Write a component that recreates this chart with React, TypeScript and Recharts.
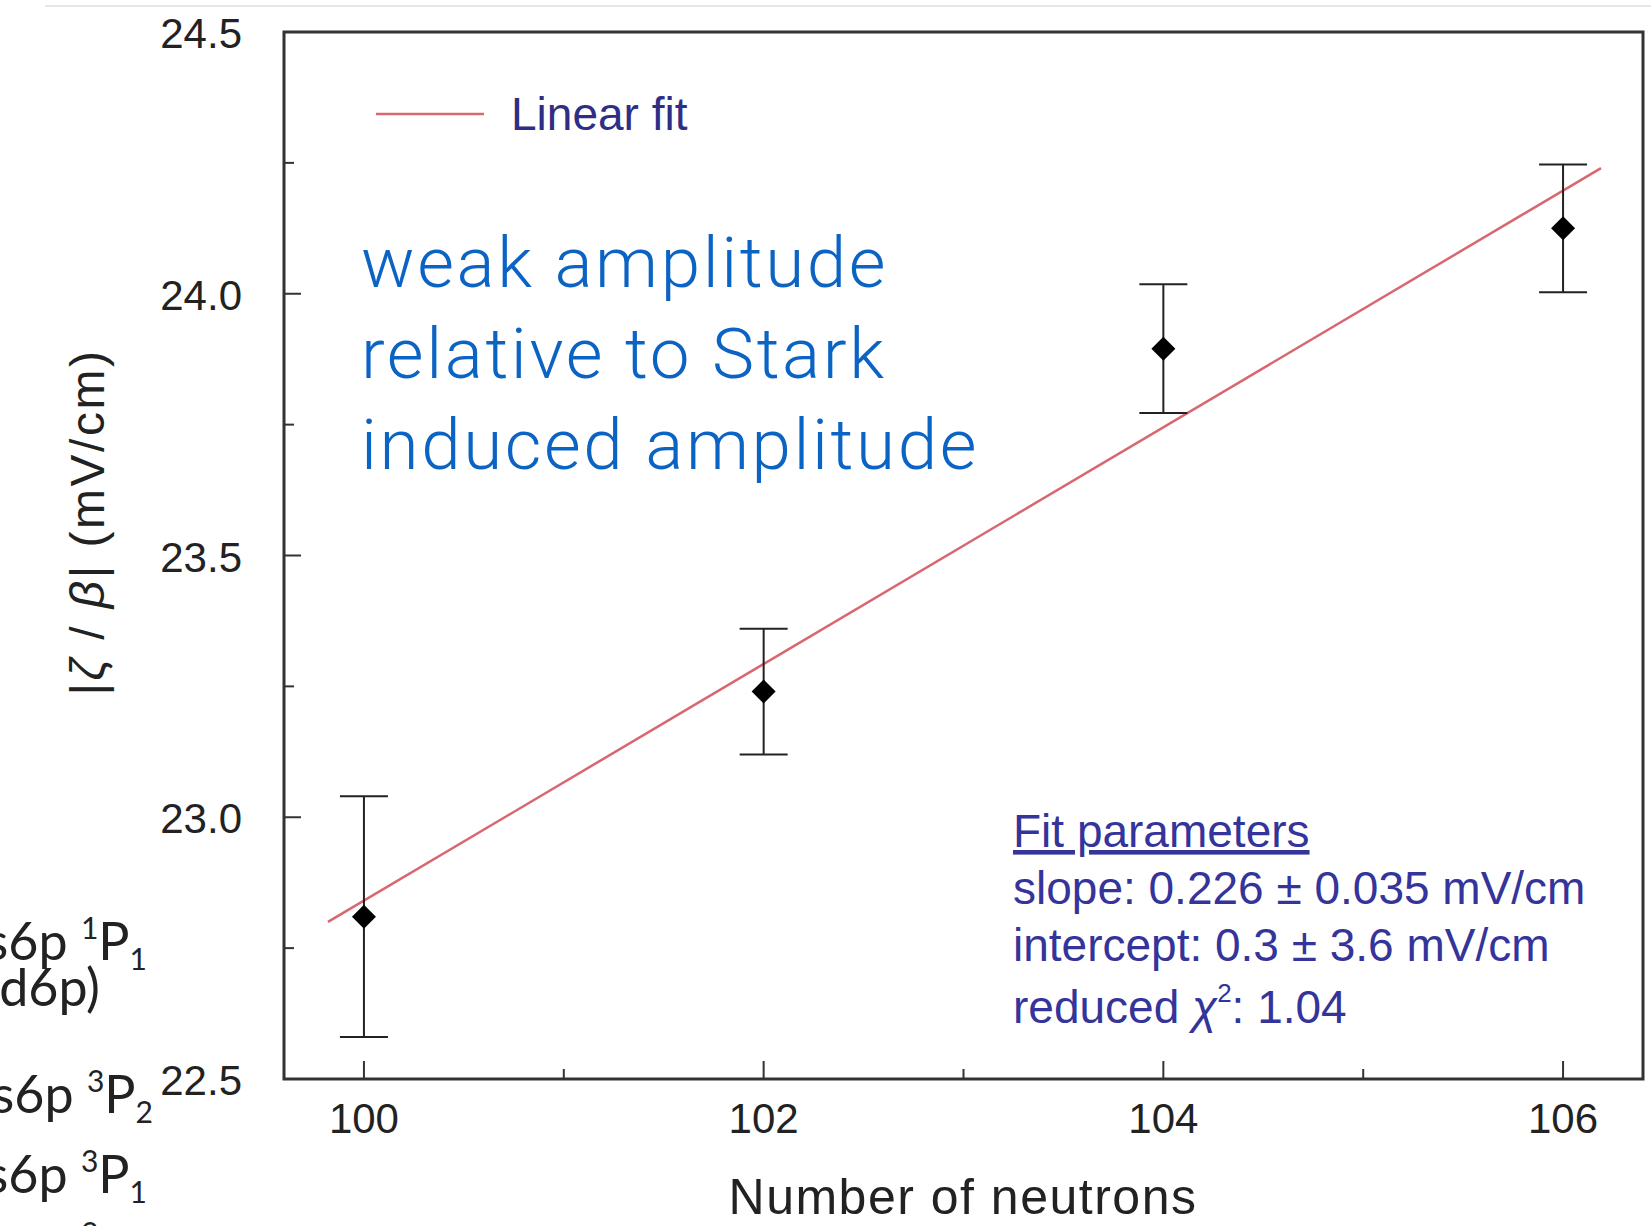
import React from "react";
import {
  ComposedChart,
  XAxis,
  YAxis,
  Scatter,
  Line,
  ErrorBar,
  ReferenceArea,
  Legend,
  Customized,
} from "recharts";

// ---- data ----
const neutrons = [100, 102, 104, 106];
const ratio = [22.81, 23.24, 23.895, 24.125];
const ratioErr = [0.23, 0.12, 0.123, 0.122];

const fitX = [99.82, 106.19];
const fitY = [22.8, 24.24];

const xTicks = [100, 101, 102, 103, 104, 105, 106];
const yTicks = [22.5, 22.75, 23.0, 23.25, 23.5, 23.75, 24.0, 24.25, 24.5];
const xDomain = [99.6, 106.4];
const yDomain = [22.5, 24.5];

const noteLines = ["weak amplitude", "relative to Stark", "induced amplitude"];
const fitParams = [
  "slope: 0.226 \u00b1 0.035 mV/cm",
  "intercept: 0.3 \u00b1 3.6 mV/cm",
];

const points = neutrons.map((n, i) => ({ x: n, y: ratio[i], err: ratioErr[i] }));
const fitData = fitX.map((x, i) => ({ x, fit: fitY[i] }));

const AXIS = "#333333";
const TXT = "#222222";
const FONT = "'Liberation Sans', Arial, Helvetica, sans-serif";
const NAVY = "#34349a";
const RED = "#d8676f";

const XTick = (props: any) => {
  const { x, y, payload } = props;
  const major = payload.value % 2 === 0;
  return (
    <g>
      <line x1={x} x2={x} y1={y} y2={y - (major ? 18 : 10)} stroke={AXIS} strokeWidth={2} />
      {major && (
        <text x={x} y={y + 54} textAnchor="middle" fontSize={42} fontFamily={FONT} fill={TXT}>
          {payload.value}
        </text>
      )}
    </g>
  );
};

const YTick = (props: any) => {
  const { x, y, payload } = props;
  const major = Math.abs((payload.value * 2) % 1) < 1e-6;
  return (
    <g>
      <line x1={x} x2={x + (major ? 17 : 10)} y1={y} y2={y} stroke={AXIS} strokeWidth={2} />
      {major && (
        <text x={x - 42} y={y + 16} textAnchor="end" fontSize={42} fontFamily={FONT} fill={TXT}>
          {payload.value.toFixed(1)}
        </text>
      )}
    </g>
  );
};

const Diamond = (props: any) => {
  const { cx, cy } = props;
  const r = 12;
  return <polygon points={`${cx},${cy - r} ${cx + r},${cy} ${cx},${cy + r} ${cx - r},${cy}`} fill="#000" />;
};

const LegendContent = () => (
  <svg width={380} height={60}>
    <line x1={6} x2={114} y1={30} y2={30} stroke={RED} strokeWidth={2.5} />
    <text x={141} y={46} fontSize={46} fontFamily={FONT} fill="#2e2e86">
      Linear fit
    </text>
  </svg>
);

const Annotations = () => (
  <g>
    <line x1={45} x2={1651} y1={6} y2={6} stroke="#e6e6e6" strokeWidth={2} />
    {/* y-axis title */}
    <text
      transform="translate(104,522) rotate(-90)"
      textAnchor="middle"
      fontSize={48}
      letterSpacing={2.5}
      fontFamily={FONT}
      fill={TXT}
    >
      |<tspan fontStyle="italic">{"\u03b6"}</tspan> / <tspan fontStyle="italic">{"\u03b2"}</tspan>| (mV/cm)
    </text>
    {/* x-axis title */}
    <text x={963} y={1214} textAnchor="middle" fontSize={50} letterSpacing={1.5} fontFamily={FONT} fill={TXT}>
      Number of neutrons
    </text>
    {/* blue note */}
    {noteLines.map((t, i) => (
      <text
        key={t}
        x={361}
        y={287 + i * 91}
        fontSize={71}
        fontWeight={300}
        letterSpacing={2.6}
        fontFamily="Roboto, 'Liberation Sans', sans-serif"
        fill="#0b63c4"
      >
        {t}
      </text>
    ))}
    {/* fit parameters */}
    <text x={1013} y={847} fontSize={46} fontFamily={FONT} fill={NAVY} textDecoration="underline">
      Fit parameters
    </text>
    {fitParams.map((t, i) => (
      <text key={t} x={1013} y={904 + i * 57} fontSize={46} fontFamily={FONT} fill={NAVY}>
        {t}
      </text>
    ))}
    <text x={1013} y={1023} fontSize={46} fontFamily={FONT} fill={NAVY}>
      reduced <tspan fontStyle="italic">{"\u03c7"}</tspan>
      <tspan fontSize={26} dy={-21}>2</tspan>
      <tspan dy={21}>: 1.04</tspan>
    </text>
    {/* cropped text from neighbouring slide */}
    <g fontFamily="Lato, 'Open Sans', sans-serif" fontSize={52} fill="#222">
      <text x={147} y={960} textAnchor="end">
        s6p <tspan fontSize={30} dy={-21}>1</tspan>
        <tspan dy={21}>P</tspan>
        <tspan fontSize={30} dy={10}>1</tspan>
      </text>
      <text x={100} y={1006} textAnchor="end">d6p)</text>
      <text x={153} y={1113} textAnchor="end">
        s6p <tspan fontSize={30} dy={-21}>3</tspan>
        <tspan dy={21}>P</tspan>
        <tspan fontSize={30} dy={10}>2</tspan>
      </text>
      <text x={147} y={1193} textAnchor="end">
        s6p <tspan fontSize={30} dy={-21}>3</tspan>
        <tspan dy={21}>P</tspan>
        <tspan fontSize={30} dy={10}>1</tspan>
      </text>
      <text x={147} y={1265} textAnchor="end">
        s6p <tspan fontSize={30} dy={-21}>3</tspan>
        <tspan dy={21}>P</tspan>
        <tspan fontSize={30} dy={10}>0</tspan>
      </text>
    </g>
  </g>
);

export default function App() {
  return (
    <div style={{ position: "fixed", left: 0, top: 0, width: 1651, height: 1226, background: "#fff", overflow: "hidden" }}>
      <ComposedChart width={1651} height={1226} margin={{ top: 32, right: 8, bottom: 87, left: 224 }}>
        <XAxis
          type="number"
          dataKey="x"
          domain={xDomain}
          ticks={xTicks}
          interval={0}
          allowDataOverflow
          axisLine={false}
          tickLine={false}
          tickSize={0}
          tickMargin={0}
          height={60}
          tick={<XTick />}
        />
        <YAxis
          type="number"
          domain={yDomain}
          ticks={yTicks}
          interval={0}
          allowDataOverflow
          axisLine={false}
          tickLine={false}
          tickSize={0}
          tickMargin={0}
          width={60}
          tick={<YTick />}
        />
        <ReferenceArea
          x1={xDomain[0]}
          x2={xDomain[1]}
          y1={yDomain[0]}
          y2={yDomain[1]}
          fill="none"
          stroke={AXIS}
          strokeWidth={3}
          ifOverflow="visible"
        />
        <Line
          data={fitData}
          dataKey="fit"
          type="linear"
          stroke={RED}
          strokeWidth={2.5}
          dot={false}
          activeDot={false}
          isAnimationActive={false}
          legendType="none"
        />
        <Scatter data={points} dataKey="y" shape={<Diamond />} isAnimationActive={false} legendType="none">
          <ErrorBar dataKey="err" direction="y" width={24} stroke="#222" strokeWidth={2} isAnimationActive={false} />
        </Scatter>
        <Legend
          layout="horizontal"
          verticalAlign="middle"
          align="center"
          content={<LegendContent />}
          wrapperStyle={{ position: "absolute", left: 370, top: 84, width: 380, height: 60 }}
        />
        <Customized component={<Annotations />} />
      </ComposedChart>
    </div>
  );
}
